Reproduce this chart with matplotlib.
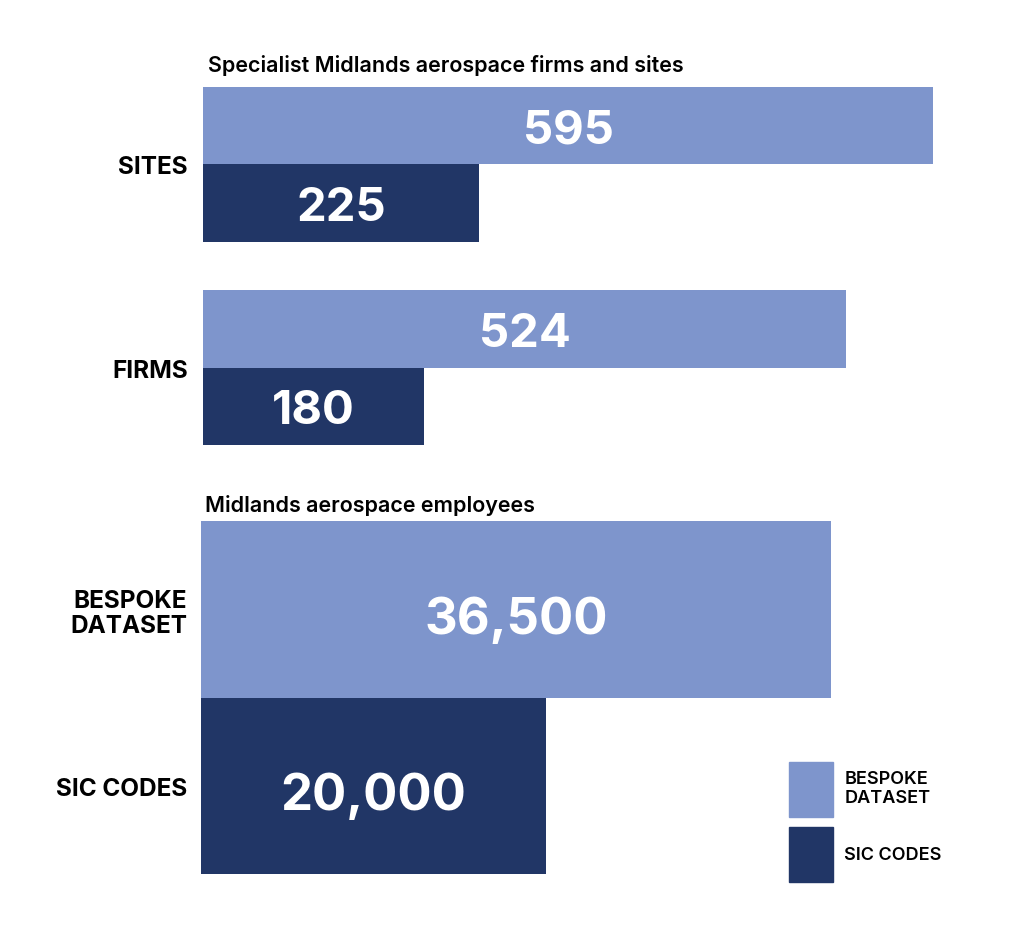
import matplotlib
matplotlib.use("Agg")
import matplotlib.pyplot as plt
from matplotlib.patches import Patch

# Data
top_categories = ["SITES", "FIRMS"]
top_bespoke = [595, 524]
top_sic = [225, 180]

bottom_labels = ["BESPOKE\nDATASET", "SIC CODES"]
employees = [36500, 20000]

series_names = ["BESPOKE\nDATASET", "SIC CODES"]
light = "#7E95CC"
dark = "#213666"

plt.rcParams["font.family"] = ["Inter", "DejaVu Sans"]

W, H = 1024, 929
fig = plt.figure(figsize=(W / 100, H / 100), dpi=100)


def px_axes(x0, y0, x1, y1):
    return fig.add_axes([x0 / W, 1 - y1 / H, (x1 - x0) / W, (y1 - y0) / H])


def clean(ax):
    for s in ax.spines.values():
        s.set_visible(False)
    ax.set_xticks([])
    ax.tick_params(axis="y", length=0)


def value_label(ax, bar, v, size, drop=0.36):
    # baseline placed about half a cap height below the bar centre
    ax.annotate(f"{v:,}", (bar.get_width() / 2, bar.get_y() + bar.get_height() / 2),
                xytext=(0, -drop * size), textcoords="offset points",
                ha="center", va="baseline", color="white", fontsize=size, fontweight="bold")


# Top panel: firms and sites
h = 0.38
ax1 = px_axes(203, 88, 933, 446)
pos = list(range(len(top_categories)))
b1 = ax1.barh([p - h / 2 for p in pos], top_bespoke, height=h, color=light)
b2 = ax1.barh([p + h / 2 for p in pos], top_sic, height=h, color=dark)
ax1.set_xlim(0, max(top_bespoke))
ax1.set_ylim(1 + h, -h)
ax1.set_yticks(pos)
ax1.set_yticklabels(top_categories, fontsize=17.5, fontweight="bold")
ax1.tick_params(axis="y", pad=11)
clean(ax1)
for bars, vals in [(b1, top_bespoke), (b2, top_sic)]:
    for bar, v in zip(bars, vals):
        value_label(ax1, bar, v, 34)

# Bottom panel: employees
ax2 = px_axes(201, 522, 831, 875)
ypos = [-0.5, 0.5]
b3 = ax2.barh(ypos, employees, height=1.0, color=[light, dark])
ax2.set_xlim(0, max(employees))
ax2.set_ylim(1, -1)
ax2.set_yticks(ypos)
ax2.set_yticklabels(bottom_labels, fontsize=17.5, fontweight="bold", ha="right",
                    linespacing=1.1)
ax2.tick_params(axis="y", pad=10)
clean(ax2)
for bar, v in zip(b3, employees):
    value_label(ax2, bar, v, 36.5, drop=0.46)

# Titles
fig.text(208 / W, 1 - 66 / H, "Specialist Midlands aerospace firms and sites",
         fontsize=15.5, fontweight="semibold", va="center", ha="left")
fig.text(205 / W, 1 - 505 / H, "Midlands aerospace employees",
         fontsize=15.5, fontweight="semibold", va="center", ha="left")

# Legend
handles = [Patch(color=light), Patch(color=dark)]
leg = fig.legend(handles, series_names, loc="upper left", bbox_to_anchor=(789 / W, 1 - 763 / H),
                 frameon=False, borderpad=0, borderaxespad=0,
                 handlelength=2.42, handleheight=4.35, handletextpad=0.65, labelspacing=0.5,
                 prop={"weight": "semibold", "size": 13})
for t in leg.get_texts():
    t.set_linespacing(1.2)

fig.savefig("out.png", dpi=100, facecolor="white")
